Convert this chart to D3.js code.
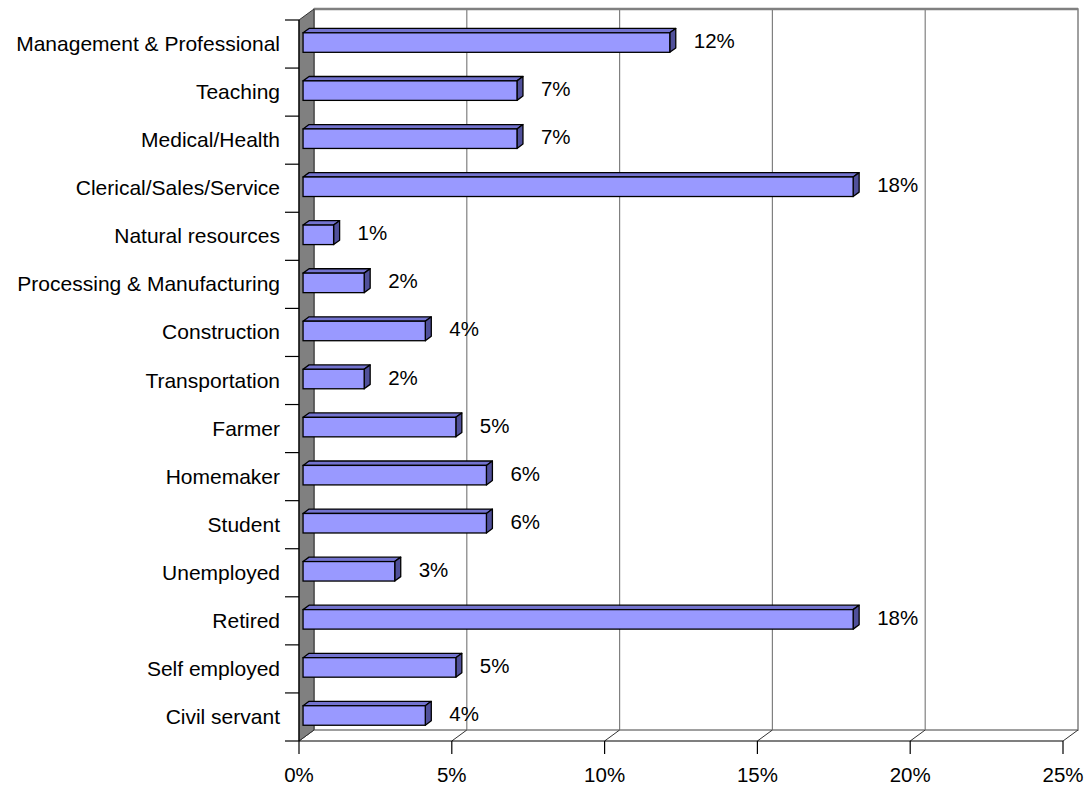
<!DOCTYPE html>
<html>
<head>
<meta charset="utf-8">
<script src="https://cdn.jsdelivr.net/npm/d3@7"></script>
<style>
  html, body { margin: 0; padding: 0; background: #fff; }
  svg { display: block; }
  text { font-family: Arial, "Liberation Sans", sans-serif; fill: #000; }
</style>
</head>
<body>
<svg id="chart" width="1091" height="788"></svg>
<script>
const categories = ["Management & Professional", "Teaching", "Medical/Health", "Clerical/Sales/Service",
  "Natural resources", "Processing & Manufacturing", "Construction", "Transportation", "Farmer",
  "Homemaker", "Student", "Unemployed", "Retired", "Self employed", "Civil servant"];
const values = [12, 7, 7, 18, 1, 2, 4, 2, 5, 6, 6, 3, 18, 5, 4];
const tickValues = [0, 5, 10, 15, 20, 25];
const tickLabels = ["0%", "5%", "10%", "15%", "20%", "25%"];

(function () {
const svg = d3.select("#chart");
const pL = 299, pR = 1063, pT = 20, pB = 741;
const DX = 15, DY = -11;        // depth offset of back wall
const x = d3.scaleLinear().domain([0, 25]).range([pL, pR]);
const y = d3.scaleBand().domain(categories).range([pT, pB]);
const px = (v, d) => x(v) + d * DX;
const py = (yy, d) => yy + d * DY;
const grey = "#808080";

// back wall
svg.append("rect")
  .attr("x", px(0, 1)).attr("y", py(pT, 1))
  .attr("width", x(25) - x(0)).attr("height", pB - pT)
  .attr("fill", "#fff").attr("stroke", grey).attr("stroke-width", 1.5);
svg.append("line")
  .attr("x1", px(0, 1)).attr("x2", px(25, 1))
  .attr("y1", py(pT, 1)).attr("y2", py(pT, 1))
  .attr("stroke", grey).attr("stroke-width", 2.5);

svg.selectAll("line.grid").data(tickValues.slice(1, -1)).enter().append("line")
  .attr("class", "grid")
  .attr("x1", d => px(d, 1)).attr("x2", d => px(d, 1))
  .attr("y1", py(pT, 1)).attr("y2", py(pB, 1))
  .attr("stroke", grey).attr("stroke-width", 1.2);

svg.selectAll("line.floor").data(tickValues).enter().append("line")
  .attr("class", "floor")
  .attr("x1", d => px(d, 0)).attr("x2", d => px(d, 1))
  .attr("y1", pB).attr("y2", py(pB, 1))
  .attr("stroke", "#333").attr("stroke-width", 1);

svg.append("path")
  .attr("d", `M${pL},${pT} L${px(0,1)},${py(pT,1)} L${px(0,1)},${py(pB,1)} L${pL},${pB} Z`)
  .attr("fill", grey).attr("stroke", "#333").attr("stroke-width", 1);

svg.append("line").attr("x1", pL).attr("x2", pR).attr("y1", pB).attr("y2", pB)
  .attr("stroke", "#000").attr("stroke-width", 1.2);
svg.append("line").attr("x1", pL).attr("x2", pL).attr("y1", pT).attr("y2", pB)
  .attr("stroke", "#000").attr("stroke-width", 1.2);

svg.selectAll("line.xt").data(tickValues).enter().append("line")
  .attr("class", "xt")
  .attr("x1", d => x(d)).attr("x2", d => x(d))
  .attr("y1", pB).attr("y2", pB + 13)
  .attr("stroke", "#000").attr("stroke-width", 1.2);
svg.selectAll("text.xl").data(tickValues).enter().append("text")
  .attr("class", "xl")
  .attr("x", d => x(d)).attr("y", 782)
  .attr("text-anchor", "middle")
  .attr("font-size", 20.5)
  .text((d, i) => tickLabels[i]);

const bounds = categories.map(c => y(c)).concat([pB]);
svg.selectAll("line.yt").data(bounds).enter().append("line")
  .attr("class", "yt")
  .attr("x1", pL - 14).attr("x2", pL)
  .attr("y1", d => d).attr("y2", d => d)
  .attr("stroke", "#000").attr("stroke-width", 1.2);

svg.selectAll("text.cat").data(categories).enter().append("text")
  .attr("class", "cat")
  .attr("x", 280).attr("y", d => y(d) + y.bandwidth() / 2 + 7)
  .attr("text-anchor", "end")
  .attr("font-size", 21)
  .text(d => d);

const d0 = 0.27, d1 = 0.67;
const barH = 19.5;
const data = categories.map((c, i) => ({ c, v: values[i] }));
const bars = svg.selectAll("g.bar").data(data).enter().append("g").attr("class", "bar");
const yTop = d => y(d.c) + y.bandwidth() / 2 - barH / 2 + 1.5;
bars.append("path")
  .attr("d", d => {
    const yt = yTop(d);
    return `M${px(0,d0)},${py(yt,d0)} L${px(0,d1)},${py(yt,d1)} L${px(d.v,d1)},${py(yt,d1)} L${px(d.v,d0)},${py(yt,d0)} Z`;
  })
  .attr("fill", "#7373CF").attr("stroke", "#000").attr("stroke-width", 1.3).attr("stroke-linejoin", "round");
bars.append("path")
  .attr("d", d => {
    const yt = yTop(d), yb = yt + barH;
    return `M${px(d.v,d0)},${py(yt,d0)} L${px(d.v,d1)},${py(yt,d1)} L${px(d.v,d1)},${py(yb,d1)} L${px(d.v,d0)},${py(yb,d0)} Z`;
  })
  .attr("fill", "#50509A").attr("stroke", "#000").attr("stroke-width", 1.3).attr("stroke-linejoin", "round");
bars.append("rect")
  .attr("x", px(0, d0)).attr("y", d => py(yTop(d), d0))
  .attr("width", d => px(d.v, d0) - px(0, d0)).attr("height", barH)
  .attr("fill", "#9999FF").attr("stroke", "#000").attr("stroke-width", 1.3);

svg.selectAll("text.val").data(data).enter().append("text")
  .attr("class", "val")
  .attr("x", d => px(d.v, d1) + 18)
  .attr("y", d => y(d.c) + y.bandwidth() / 2 + 4)
  .attr("font-size", 20.5)
  .text(d => d.v + "%");
})();
</script>
</body>
</html>
